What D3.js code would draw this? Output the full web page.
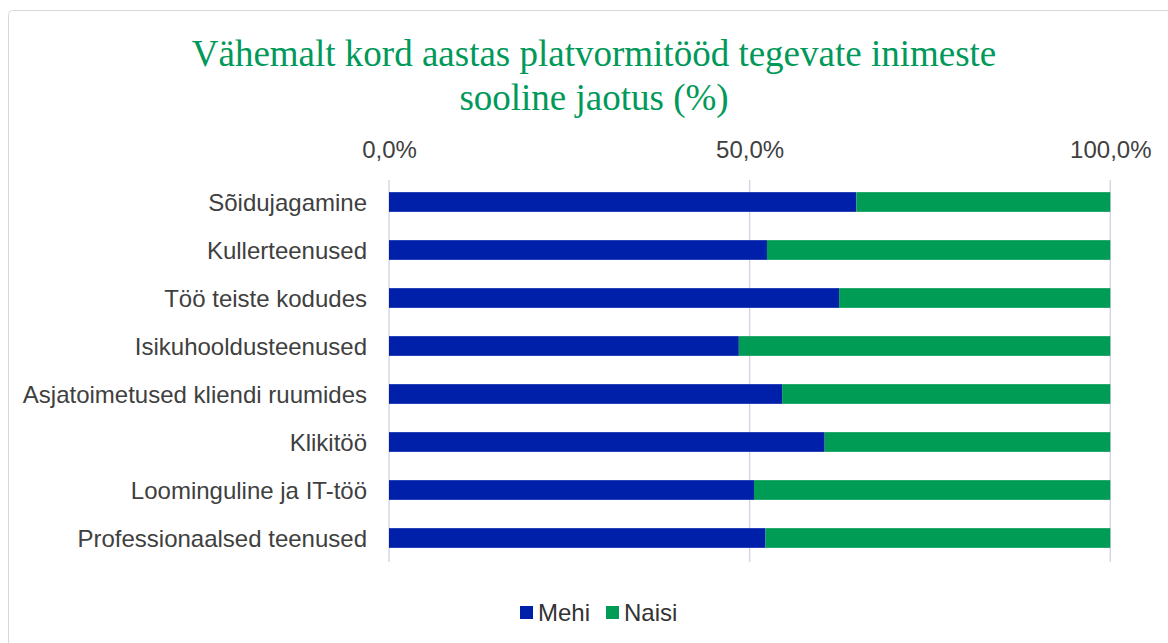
<!DOCTYPE html>
<html>
<head>
<meta charset="utf-8">
<script src="https://cdn.jsdelivr.net/npm/d3@7"></script>
<style>
  body { margin: 0; background: #fff; }
  svg { display: block; }
</style>
</head>
<body>
<div id="chart"></div>
<script>
// data (percent)
const categories = [
    "Sõidujagamine",
    "Kullerteenused",
    "Töö teiste kodudes",
    "Isikuhooldusteenused",
    "Asjatoimetused kliendi ruumides",
    "Klikitöö",
    "Loominguline ja IT-töö",
    "Professionaalsed teenused"
];
const mehi = [64.8, 52.4, 62.4, 48.5, 54.5, 60.4, 50.6, 52.2];
const naisi = mehi.map(v => 100 - v);
const seriesNames = ["Mehi", "Naisi"];
const seriesColors = ["#0020AA", "#009B55"];
const tickValues = [0, 50, 100];
const titleLines = ["Vähemalt kord aastas platvormitööd tegevate inimeste", "sooline jaotus (%)"];

const width = 1168;
const height = 643;
const margin = { left: 389, right: 57, top: 178, bottom: 81 };
const sans = "'Liberation Sans', Arial, sans-serif";

const svg = d3.select("#chart").append("svg")
    .attr("width", width)
    .attr("height", height);

// chart frame
svg.append("rect")
    .attr("x", 8.5).attr("y", 10.5)
    .attr("width", 1200).attr("height", 700)
    .attr("rx", 4)
    .attr("fill", "#fff")
    .attr("stroke", "#d9d9d9");

svg.append("text")
    .attr("text-anchor", "middle")
    .attr("font-family", "'Liberation Serif', 'Times New Roman', serif")
    .attr("font-size", "37px")
    .attr("fill", "#00995A")
    .selectAll("tspan")
    .data(titleLines)
    .enter().append("tspan")
    .attr("x", 594)
    .attr("y", (d, i) => 66 + i * 44)
    .text(d => d);

const x = d3.scaleLinear().domain([0, 100]).range([margin.left, width - margin.right - 0.7]);
const y = d3.scaleBand().domain(categories).range([margin.top, height - margin.bottom]).paddingInner(0.59).paddingOuter(0.295);

// vertical grid lines
svg.append("g")
    .selectAll("line")
    .data(tickValues)
    .enter().append("line")
    .attr("x1", d => x(d)).attr("x2", d => x(d))
    .attr("y1", 180).attr("y2", 562)
    .attr("stroke", "#DCD3E4")
    .attr("stroke-width", 1.5);

// top axis labels
const fmt = v => d3.format(".1f")(v).replace(".", ",") + "%";
const xAxis = d3.axisTop(x).tickValues(tickValues).tickFormat(fmt).tickSize(0).tickPadding(0);
const ax = svg.append("g").attr("transform", "translate(0,158)").call(xAxis);
ax.select(".domain").remove();
ax.selectAll("text")
    .attr("font-family", sans)
    .attr("font-size", "24px")
    .attr("fill", "#404040");

// category labels
const yAxis = d3.axisLeft(y).tickSize(0).tickPadding(0);
const ay = svg.append("g").attr("transform", "translate(367,0)").call(yAxis);
ay.select(".domain").remove();
ay.selectAll("text")
    .attr("dy", "0.37em")
    .attr("font-family", sans)
    .attr("font-size", "24px")
    .attr("fill", "#404040");

// stacked bars
const rows = categories.map((c, i) => ({ cat: c, Mehi: mehi[i], Naisi: naisi[i] }));
const stack = d3.stack().keys(seriesNames)(rows);
svg.append("g")
    .selectAll("g")
    .data(stack)
    .enter().append("g")
    .attr("fill", (d, i) => seriesColors[i])
    .selectAll("rect")
    .data(d => d)
    .enter().append("rect")
    .attr("x", d => x(d[0]))
    .attr("y", d => y(d.data.cat))
    .attr("width", d => x(d[1]) - x(d[0]))
    .attr("height", y.bandwidth());

// legend
const legendX = [520, 606];
const legend = svg.append("g")
    .selectAll("g")
    .data(seriesNames)
    .enter().append("g")
    .attr("transform", (d, i) => "translate(" + legendX[i] + ",606)");
legend.append("rect")
    .attr("width", 13).attr("height", 13)
    .attr("fill", (d, i) => seriesColors[i]);
legend.append("text")
    .attr("x", 18).attr("y", 15)
    .attr("font-family", sans)
    .attr("font-size", "24px")
    .attr("fill", "#333")
    .text(d => d);
</script>
</body>
</html>
